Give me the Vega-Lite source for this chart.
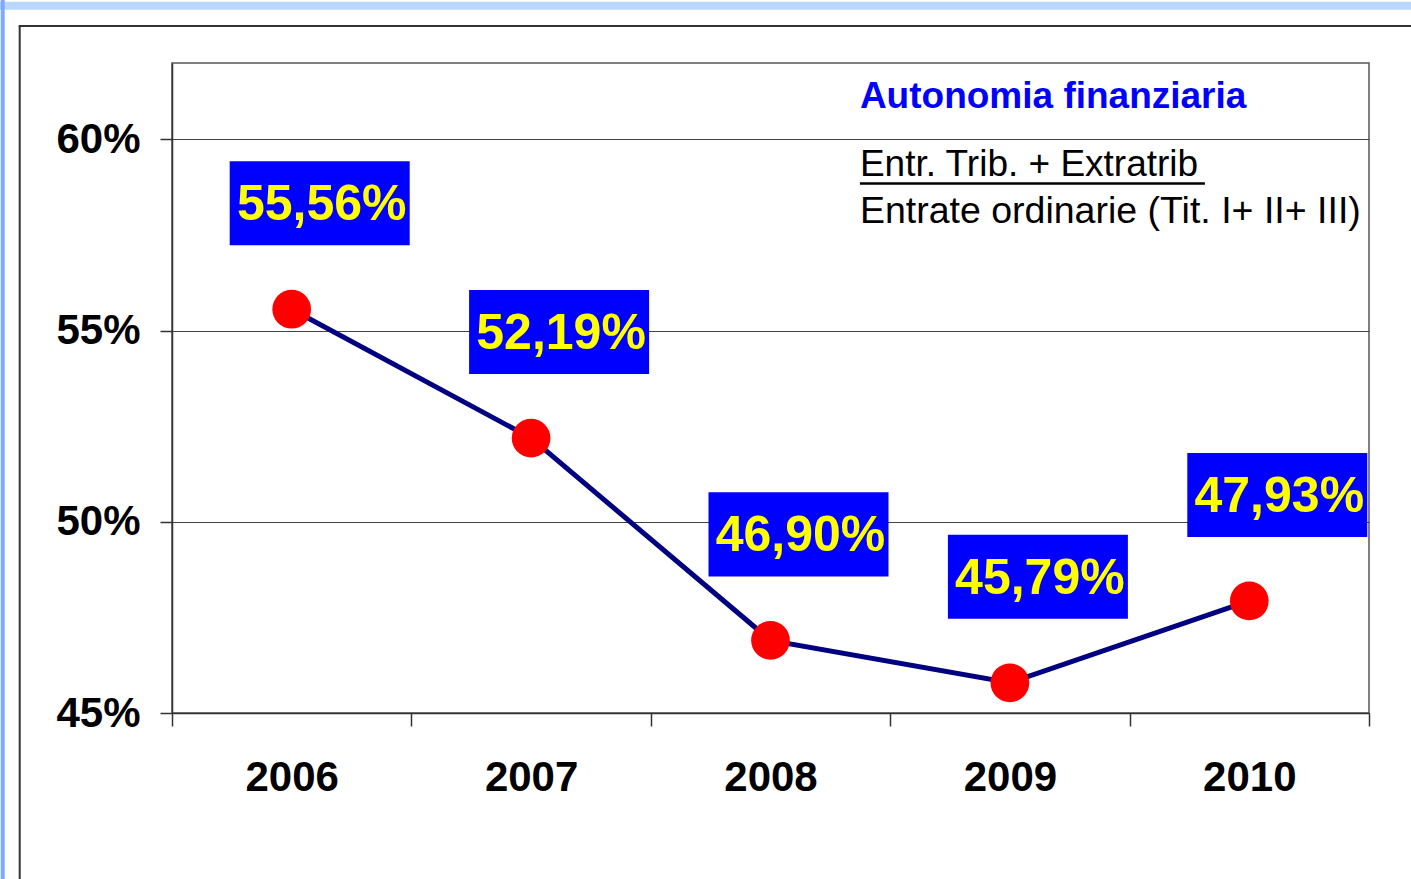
{
  "$schema": "https://vega.github.io/schema/vega-lite/v6.json",
  "width": 1197,
  "height": 650,
  "autosize": {"type": "none"},
  "padding": {"left": 172, "top": 63, "right": 42, "bottom": 166},
  "background": "white",
  "config": {"view": {"stroke": "#555555", "strokeWidth": 1.5}, "font": "Liberation Sans"},
  "data": {"values": [
    {"year": "2006", "value": 55.56, "label": "55,56%"},
    {"year": "2007", "value": 52.19, "label": "52,19%"},
    {"year": "2008", "value": 46.90, "label": "46,90%"},
    {"year": "2009", "value": 45.79, "label": "45,79%"},
    {"year": "2010", "value": 47.93, "label": "47,93%"}
  ]},
  "encoding": {
    "x": {
      "field": "year", "type": "ordinal",
      "scale": {"type": "band", "paddingInner": 0, "paddingOuter": 0},
      "axis": {
        "title": null, "labelAngle": 0, "labelFont": "Liberation Sans", "labelFontSize": 42,
        "labelFontWeight": "bold", "labelColor": "black", "tickBand": "extent", "tickSize": 13,
        "tickColor": "#333333", "tickWidth": 1.5, "domainColor": "#333333", "domainWidth": 1.5,
        "labelPadding": 31, "grid": false
      }
    },
    "y": {
      "field": "value", "type": "quantitative",
      "scale": {"domain": [45, 62], "nice": false, "zero": false},
      "axis": {
        "title": null, "values": [45, 50, 55, 60], "labelExpr": "datum.value + '%'",
        "labelFont": "Liberation Sans", "labelFontSize": 42, "labelFontWeight": "bold",
        "labelColor": "black", "tickSize": 12, "labelPadding": 20, "grid": true,
        "gridColor": "#444444", "gridWidth": 1, "domainColor": "#333333", "domainWidth": 1.5,
        "tickColor": "#333333", "tickWidth": 1.5
      }
    }
  },
  "layer": [
    {"transform": [{"filter": "datum.year == '2006'"}],
     "mark": {"type": "rule", "color": "#b8d6fe", "strokeWidth": 8, "xOffset": -295, "x2Offset": 1125},
     "encoding": {"x2": {"field": "year"}, "y": {"datum": 63.5, "type": "quantitative"}}},
    {"transform": [{"filter": "datum.year == '2006'"}],
     "mark": {"type": "rule", "color": "#7fa8ff", "strokeWidth": 4, "xOffset": -289},
     "encoding": {"y": {"datum": 63.8, "type": "quantitative"}, "y2": {"datum": 39}}},
    {"transform": [{"filter": "datum.year == '2006'"}],
     "mark": {"type": "rule", "color": "#333333", "strokeWidth": 2, "xOffset": -273, "x2Offset": 1125},
     "encoding": {"x2": {"field": "year"}, "y": {"datum": 62.97, "type": "quantitative"}}},
    {"transform": [{"filter": "datum.year == '2006'"}],
     "mark": {"type": "rule", "color": "#333333", "strokeWidth": 2, "xOffset": -272},
     "encoding": {"y": {"datum": 62.97, "type": "quantitative"}, "y2": {"datum": 39}}},
    {"mark": {"type": "line", "color": "#000080", "strokeWidth": 5}},
    {"mark": {"type": "point", "shape": "circle", "filled": true, "color": "#ff0000", "opacity": 1, "size": 1500}},
    {"mark": {"type": "point", "shape": "M-1,-0.467H1V0.467H-1Z", "filled": true, "color": "#0000ff", "opacity": 1, "size": 32400, "xOffset": 28, "yOffset": -106}},
    {"mark": {"type": "text", "color": "#ffff00", "font": "Liberation Sans", "fontSize": 50, "fontWeight": "bold", "align": "center", "baseline": "middle", "dx": 30, "dy": -104},
     "encoding": {"text": {"field": "label"}}},
    {"transform": [{"filter": "datum.year == '2009'"}],
     "mark": {"type": "text", "text": "Autonomia finanziaria", "color": "#0000ff", "font": "Liberation Sans", "fontSize": 37, "fontWeight": "bold", "align": "left", "baseline": "middle", "dx": -150},
     "encoding": {"y": {"datum": 61.12, "type": "quantitative"}}},
    {"transform": [{"filter": "datum.year == '2009'"}],
     "mark": {"type": "text", "text": "Entr. Trib. + Extratrib", "color": "black", "font": "Liberation Sans", "fontSize": 37, "align": "left", "baseline": "middle", "dx": -150},
     "encoding": {"y": {"datum": 59.32, "type": "quantitative"}}},
    {"transform": [{"filter": "datum.year == '2009'"}],
     "mark": {"type": "text", "text": "Entrate ordinarie (Tit. I+ II+ III)", "color": "black", "font": "Liberation Sans", "fontSize": 37.5, "align": "left", "baseline": "middle", "dx": -150},
     "encoding": {"y": {"datum": 58.10, "type": "quantitative"}}},
    {"transform": [{"filter": "datum.year == '2009'"}],
     "mark": {"type": "rule", "color": "black", "strokeWidth": 2.5, "xOffset": -150, "x2Offset": 195},
     "encoding": {"x2": {"field": "year"}, "y": {"datum": 58.85, "type": "quantitative"}}}
  ]
}
